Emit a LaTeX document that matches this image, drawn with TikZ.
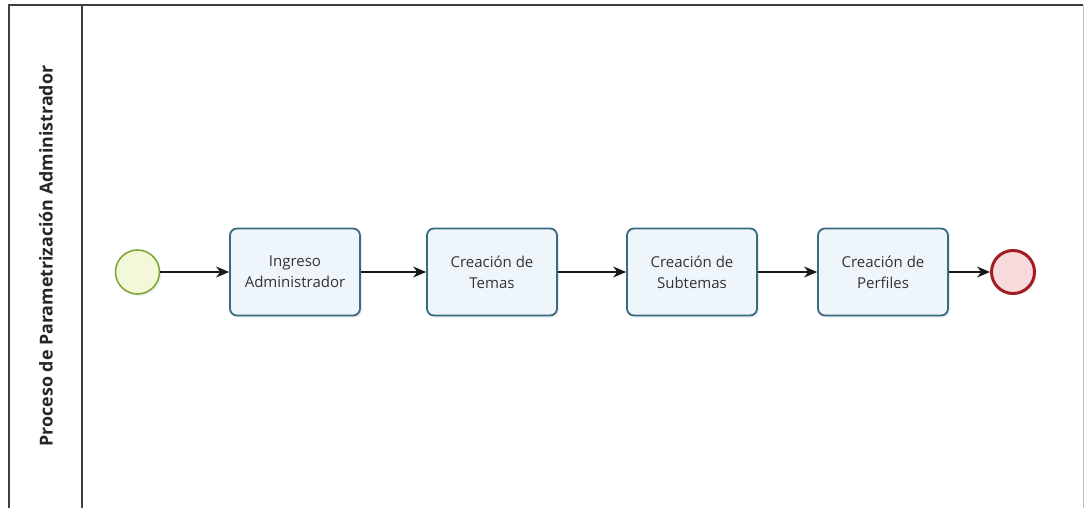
\documentclass[tikz,border=0pt]{standalone}
\usepackage{fontspec}
\setmainfont{Open Sans}
\usetikzlibrary{arrows.meta,shadows}
\definecolor{taskline}{HTML}{3A6A80}
\definecolor{taskfill}{HTML}{EEF6FC}
\definecolor{startline}{HTML}{7FA83A}
\definecolor{startfill}{HTML}{F3F9D8}
\definecolor{endline}{HTML}{A01E22}
\definecolor{endfill}{HTML}{FADADD}
\tikzset{
  task/.style={draw=taskline, line width=1.8pt, fill=taskfill, rounded corners=7pt,
    minimum width=130pt, minimum height=87pt, align=center, font=\fontsize{15}{21}\selectfont,
    text=black!80, drop shadow={shadow xshift=2pt, shadow yshift=-2pt, opacity=0.15}},
  startev/.style={circle, draw=startline, line width=1.6pt, fill=startfill, minimum size=44pt,
    drop shadow={shadow xshift=2pt, shadow yshift=-2pt, opacity=0.12}},
  endev/.style={circle, draw=endline, line width=3pt, fill=endfill, minimum size=43pt,
    drop shadow={shadow xshift=2pt, shadow yshift=-2pt, opacity=0.12}},
  flow/.style={draw=black!90, line width=1.3pt, -{Stealth[length=13pt,width=11pt]}},
  lane/.style={draw=black!75, line width=1.2pt}
}
\begin{document}
\begin{tikzpicture}[x=1pt,y=-1pt]
\useasboundingbox (0,0) rectangle (1085,508);
\fill[white] (0,0) rectangle (1085,508);
% pool and lane frame
\coordinate (tl) at (9,5);
\coordinate (tr) at (1083,5);
\coordinate (bl) at (9,508);
\coordinate (dt) at (82,5);
\coordinate (db) at (82,508);
\draw[lane] (bl) -- (tl) -- (tr);
\draw[draw=black!25, line width=1pt] (tr) -- (1083,508);
\draw[lane] (dt) -- (db);
\node[rotate=90, font=\bfseries\fontsize{17.8}{20}\selectfont, text=black!85] (title) at (46,256) {Proceso de Parametrización Administrador};
% process
\node[startev] (s) at (137.5,272) {};
\node[task] (t1) at (295,272) {Ingreso\\Administrador};
\node[task] (t2) at (492,272) {Creación de\\Temas};
\node[task] (t3) at (692,272) {Creación de\\Subtemas};
\node[task] (t4) at (883,272) {Creación de\\Perfiles};
\node[endev] (e) at (1013,272) {};
\draw[flow] (s) -- (t1);
\draw[flow] (t1) -- (t2);
\draw[flow] (t2) -- (t3);
\draw[flow] (t3) -- (t4);
\draw[flow] (t4) -- (e);
\end{tikzpicture}
\end{document}
